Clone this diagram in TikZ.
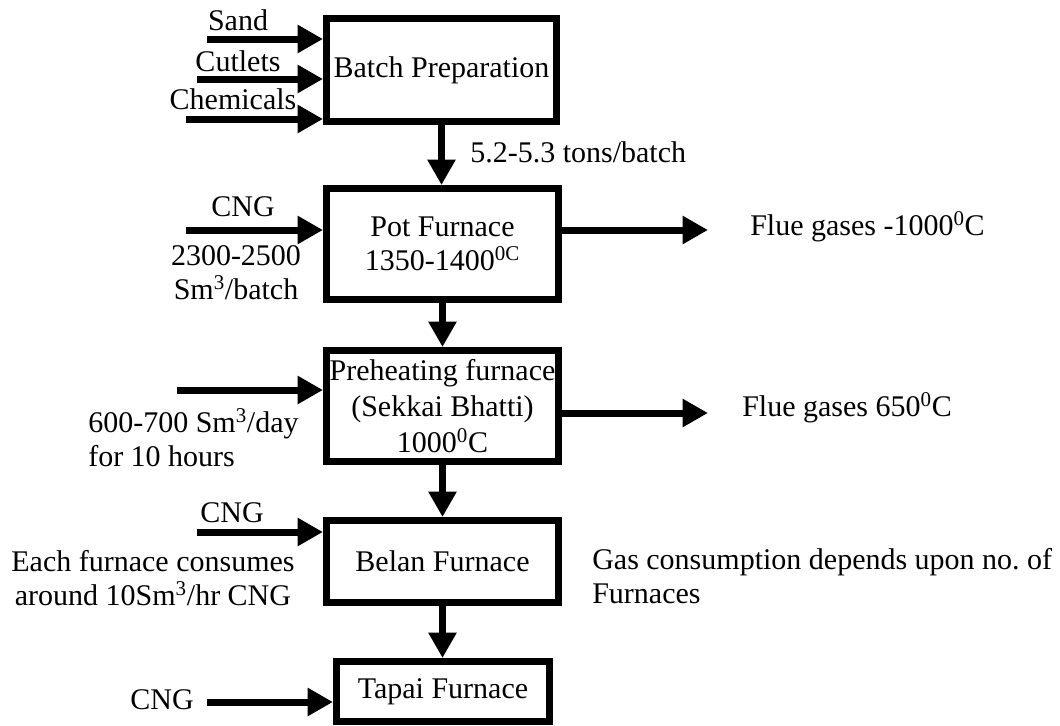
\documentclass[tikz,border=0pt]{standalone}
\usepackage{fontspec}
\setmainfont{Liberation Serif}
\usetikzlibrary{arrows.meta}
\frenchspacing
\begin{document}
\begin{tikzpicture}[x=0.75pt,y=-0.75pt,
  every node/.style={font=\fontsize{22.5}{25.5}\selectfont, inner sep=0pt},
  box/.style={draw, line width=5.25pt, align=center, inner sep=0pt},
  flow/.style={line width=5.25pt, -{Triangle[length=19pt,width=20pt]}}]
\useasboundingbox (0,0) rectangle (1060,725);
% boxes
\node[box, minimum width=172.5pt, minimum height=77.25pt] (batch) at (441.5,70) {Batch Preparation};
\node[box, minimum width=174pt, minimum height=83.25pt] (pot) at (442.5,244) {Pot Furnace\\1350-1400\textsuperscript{0C}};
\node[box, minimum width=174pt, minimum height=83.25pt, font=\fontsize{22.5}{27}\selectfont] (pre) at (442.5,406) {Preheating furnace\\(Sekkai Bhatti)\\1000\textsuperscript{0}C};
\node[box, minimum width=174pt, minimum height=61.5pt] (belan) at (442.5,561.5) {Belan Furnace};
\node[box, minimum width=159.75pt, minimum height=45pt] (tapai) at (443,691.5) {Tapai Furnace};
% free ends
\coordinate (sandS) at (207,39);
\coordinate (cutS) at (197,79);
\coordinate (chemS) at (186,119);
\coordinate (cngPotS) at (186,230);
\coordinate (preS) at (177,390);
\coordinate (cngBelS) at (197,532);
\coordinate (cngTapS) at (207,702);
\coordinate (flue1E) at (708,230);
\coordinate (flue2E) at (708,413);
% inputs
\draw[flow] (sandS) -- (sandS -| batch.west);
\draw[flow] (cutS) -- (cutS -| batch.west);
\draw[flow] (chemS) -- (chemS -| batch.west);
\draw[flow] (cngPotS) -- (cngPotS -| pot.west);
\draw[flow] (preS) -- (preS -| pre.west);
\draw[flow] (cngBelS) -- (cngBelS -| belan.west);
\draw[flow] (cngTapS) -- (cngTapS -| tapai.west);
% outputs
\draw[flow] (flue1E -| pot.east) -- (flue1E);
\draw[flow] (flue2E -| pre.east) -- (flue2E);
% main flow
\draw[flow] (batch.south) -- (batch.south |- pot.north);
\draw[flow] (pot.south) -- (pot.south |- pre.north);
\draw[flow] (pre.south) -- (pre.south |- belan.north);
\draw[flow] (belan.south) -- (belan.south |- tapai.north);
% labels
\node (sand) at (238,20) {Sand};
\node (cutlets) at (238,61) {Cutlets};
\node (chem) at (233,99) {Chemicals};
\node[anchor=west] (tons) at (470,152) {5.2-5.3 tons/batch};
\node (cng1) at (243,207) {CNG};
\node[align=center] (cng1q) at (236,273) {2300-2500\\Sm\textsuperscript{3}/batch};
\node[anchor=west] (flue1) at (750,227) {Flue gases -1000\textsuperscript{0}C};
\node[anchor=west, align=left] (preq) at (88,438) {600-700 Sm\textsuperscript{3}/day\\for 10 hours};
\node[anchor=west] (flue2) at (742,408) {Flue gases 650\textsuperscript{0}C};
\node (cng3) at (232,513) {CNG};
\node[align=center] (each) at (153,578) {Each furnace consumes\\around 10Sm\textsuperscript{3}/hr CNG};
\node[anchor=west, align=left] (gas) at (592,576) {Gas consumption depends upon no. of\\Furnaces};
\node (cng4) at (162,700) {CNG};
\end{tikzpicture}
\end{document}
